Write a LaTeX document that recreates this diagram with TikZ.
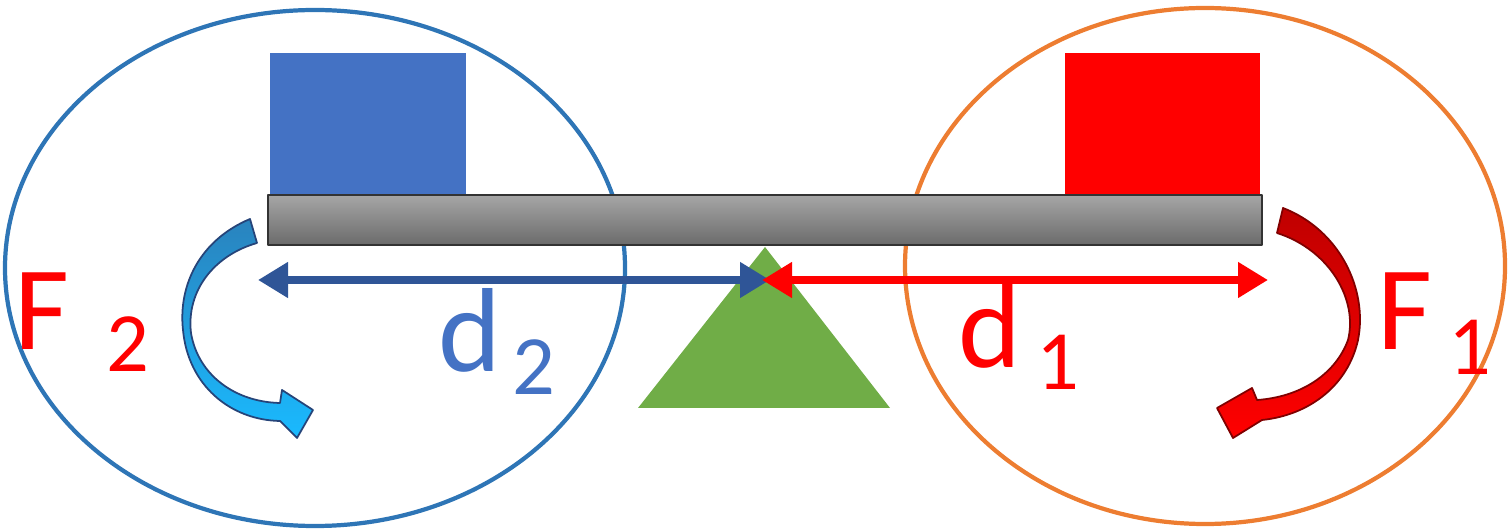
\documentclass[tikz,border=0pt]{standalone}
\usepackage{fontspec}
\setmainfont{Carlito}
\usetikzlibrary{arrows.meta}
\definecolor{bloc}{HTML}{4472C4}
\definecolor{ringL}{HTML}{2E75B6}
\definecolor{ringR}{HTML}{ED7D31}
\definecolor{pivot}{HTML}{70AD47}
\definecolor{armL}{HTML}{2F5597}
\begin{document}
\begin{tikzpicture}[x=0.01cm,y=-0.01cm,line join=round,>={Triangle[length=0.3cm,width=0.34cm]}]
\tikzset{big/.style={font=\fontsize{34}{40}\selectfont,inner sep=0pt,anchor=base},
  small/.style={font=\fontsize{24}{28}\selectfont,inner sep=0pt,anchor=base},
  arm/.style={line width=0.08cm,<->}}
\useasboundingbox (0,0) rectangle (1510,531);
% circles
\draw[ringL,line width=1.2pt] (315,268) ellipse [x radius=310,y radius=258];
\draw[ringR,line width=1.2pt] (1205,266) ellipse [x radius=300,y radius=258];
% masses and beam
\fill[bloc] (270,53) rectangle (466,195);
\fill[red] (1065,53) rectangle (1260,195);
\draw[black!80,line width=0.6pt,top color=black!35,bottom color=black!58] (268,195) rectangle (1262,245);
% fulcrum
\fill[pivot] (765,247) -- (890,408) -- (638,408) -- cycle;
\coordinate (P) at (765,280);
\coordinate (A) at (258,280);
\coordinate (B) at (1268,280);
% distances
\draw[arm,armL] (A) -- ([xshift=0.05cm]P);
\draw[arm,red] ([xshift=-0.03cm]P) -- (B);
% moments
\shade[draw=armL!80!black,line width=0.5pt,top color=ringL!90!cyan,bottom color=cyan!70!blue!90] (250,219) .. controls (200,240) and (178,285) .. (183,330)
  .. controls (188,385) and (230,420) .. (280,421) -- (297,438) -- (313,410) -- (282,390) -- (280,403)
  .. controls (235,402) and (198,375) .. (191,333) .. controls (186,290) and (215,255) .. (257,243) -- cycle;
\shade[draw=red!50!black,line width=0.5pt,top color=red!75!black,bottom color=red] (1283,208) .. controls (1340,230) and (1368,290) .. (1358,340)
  .. controls (1348,385) and (1310,415) .. (1262,420) -- (1233,438) -- (1217,408) -- (1252,388) -- (1257,400)
  .. controls (1300,397) and (1335,375) .. (1348,340) .. controls (1358,300) and (1330,250) .. (1277,233) -- cycle;
% labels
\node[big,text=red] (F2) at (42,350) {F};
\node[small,text=red] (F2i) at (128,372) {2};
\node[big,text=bloc] (d2) at (470,372) {d};
\node[small,text=bloc] (d2i) at (534,395) {2};
\node[big,text=red] (d1) at (990,368) {d};
\node[small,text=red] (d1i) at (1058,390) {1};
\node[big,text=red] (F1) at (1405,350) {F};
\node[small,text=red] (F1i) at (1470,375) {1};
\end{tikzpicture}
\end{document}
